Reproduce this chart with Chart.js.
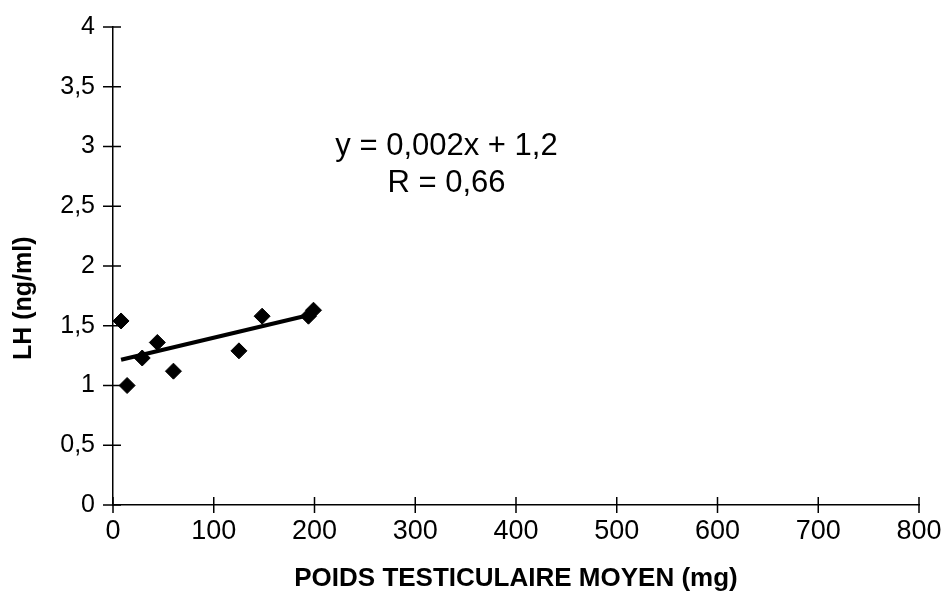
<!DOCTYPE html>
<html>
<head>
<meta charset="utf-8">
<script src="https://cdn.jsdelivr.net/npm/chart.js@4/dist/chart.umd.min.js"></script>
<style>
  html, body { margin: 0; padding: 0; background: #fff; }
  #wrap { width: 947px; height: 601px; position: relative; }
</style>
</head>
<body>
<div id="wrap"><canvas id="c-lh"></canvas></div>
<script>
// poids testiculaire moyen (mg) vs LH (ng/ml)
var poids = [8, 14, 29, 44, 60, 125, 148, 194, 199];
var lh    = [1.54, 1.00, 1.23, 1.36, 1.12, 1.29, 1.58, 1.58, 1.63];
var pente = 0.002, origine = 1.2;
var eqLines = ['y = 0,002x + 1,2', 'R = 0,66'];
var yTitle = 'LH (ng/ml)';
var xTicks = [0, 100, 200, 300, 400, 500, 600, 700, 800];
var yTicks = [0, 0.5, 1, 1.5, 2, 2.5, 3, 3.5, 4];

var pts = poids.map(function(p, i) { return {x: p, y: lh[i]}; });
var x0 = Math.min.apply(null, poids), x1 = Math.max.apply(null, poids);
var trend = [{x: x0, y: origine + pente * x0}, {x: x1, y: origine + pente * x1}];

var fam = '"Liberation Sans", Arial, sans-serif';
function fr(v) { return String(v).replace('.', ','); }

// tick marks crossing the axis lines, equation text, y title sitting a bit low
var crossTicks = {
  id: 'crossTicks',
  afterDraw: function(chart) {
    var ctx = chart.ctx, xs = chart.scales.x, ys = chart.scales.y;
    ctx.save();
    ctx.strokeStyle = '#000';
    ctx.lineWidth = 1.5;
    ctx.beginPath();
    xTicks.forEach(function(v) {
      var px = xs.getPixelForValue(v);
      ctx.moveTo(px, ys.bottom - 8); ctx.lineTo(px, ys.bottom + 8);
    });
    yTicks.forEach(function(v) {
      var py = ys.getPixelForValue(v);
      ctx.moveTo(xs.left - 10, py); ctx.lineTo(xs.left + 8, py);
    });
    ctx.stroke();
    ctx.fillStyle = '#000';
    ctx.font = '31px ' + fam;
    ctx.textAlign = 'center';
    ctx.textBaseline = 'middle';
    var cx = xs.getPixelForValue(331);
    ctx.fillText(eqLines[0], cx, ys.getPixelForValue(3.0));
    ctx.fillText(eqLines[1], cx, ys.getPixelForValue(2.69));

    ctx.translate(24, ys.getPixelForValue(1.73));
    ctx.rotate(-Math.PI / 2);
    ctx.font = 'bold 25px ' + fam;
    ctx.fillText(yTitle, 0, 0);
    ctx.restore();
  }
};

new Chart(document.getElementById('c-lh'), {
  type: 'scatter',
  data: {
    datasets: [
      {label: 'LH', data: pts, backgroundColor: '#000', borderColor: '#000',
       pointStyle: 'rectRot', pointRadius: 8, pointHoverRadius: 8, order: 1},
      {type: 'line', label: 'tendance', data: trend, borderColor: '#000', borderWidth: 4,
       pointRadius: 0, fill: false, order: 2}
    ]
  },
  options: {
    responsive: true, maintainAspectRatio: false, animation: false,
    layout: {padding: {left: 0, top: 27, right: 28, bottom: 0}},
    plugins: {legend: {display: false}, tooltip: {enabled: false}},
    scales: {
      x: {
        type: 'linear', min: 0, max: 800,
        afterBuildTicks: function(s) { s.ticks = xTicks.map(function(v) { return {value: v}; }); },
        afterFit: function(s) { s.height = 96; s.paddingLeft = 0; s.paddingRight = 0; },
        grid: {drawOnChartArea: false, drawTicks: false},
        border: {color: '#000', width: 1.5},
        ticks: {color: '#000', padding: 10, font: {family: fam, size: 27}},
        title: {display: true, text: 'POIDS TESTICULAIRE MOYEN (mg)', color: '#000',
                font: {family: fam, size: 26, weight: 'bold'}, padding: {top: 4, bottom: 7}}
      },
      y: {
        type: 'linear', min: 0, max: 4,
        afterBuildTicks: function(s) { s.ticks = yTicks.map(function(v) { return {value: v}; }); },
        afterFit: function(s) { s.width = 113; s.paddingTop = 0; s.paddingBottom = 0; },
        grid: {drawOnChartArea: false, drawTicks: false},
        border: {color: '#000', width: 1.5},
        ticks: {color: '#000', padding: 18, font: {family: fam, size: 25},
                callback: function(v) { return fr(v); }}
      }
    }
  },
  plugins: [crossTicks]
});
</script>
</body>
</html>
